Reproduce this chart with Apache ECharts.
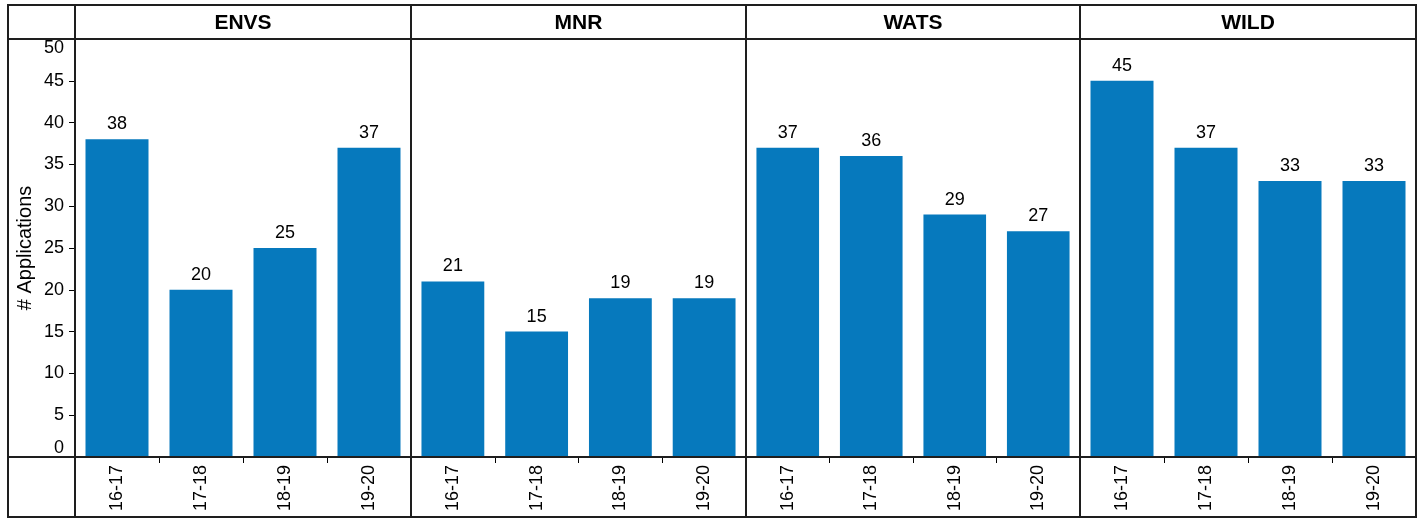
<!DOCTYPE html>
<html>
<head>
<meta charset="utf-8">
<script src="https://cdn.jsdelivr.net/npm/echarts@6/dist/echarts.min.js"></script>
<style>
html,body{margin:0;padding:0;background:#fff;}
#chart{width:1424px;height:519px;}
</style>
</head>
<body>
<div id="chart"></div>
<script>
// ---- data ----
const panels = ['ENVS', 'MNR', 'WATS', 'WILD'];
const years = ['16-17', '17-18', '18-19', '19-20'];
const envs = [38, 20, 25, 37];
const mnr = [21, 15, 19, 19];
const wats = [37, 36, 29, 27];
const wild = [45, 37, 33, 33];
const yTicks = { min: 0, max: 50, interval: 5 };
const yTitle = '# Applications';
const seriesValues = [envs, mnr, wats, wild];

// ---- layout ----
const FONT = '"Liberation Sans", Arial, sans-serif';
const edges = [75, 411, 746, 1080, 1416];
const plotTop = 39, plotBottom = 457;
const frameL = 8, frameT = 5, frameR = 1416, frameB = 517;
const barColor = '#0679BD';
const lineColor = '#1e1e1e';

const grids = [], xAxes = [], yAxes = [], series = [], graphics = [];
panels.forEach((p, i) => {
  grids.push({
    left: edges[i], top: plotTop,
    width: edges[i + 1] - edges[i], height: plotBottom - plotTop,
    containLabel: false
  });
  xAxes.push({
    type: 'category', gridIndex: i, data: years,
    axisLine: { show: false },
    axisTick: { show: true, alignWithLabel: false, length: 6, lineStyle: { color: '#000', width: 1 } },
    axisLabel: { rotate: 90, fontSize: 18, color: '#000', fontFamily: FONT, margin: 8 }
  });
  yAxes.push({
    type: 'value', gridIndex: i, min: yTicks.min, max: yTicks.max, interval: yTicks.interval,
    splitLine: { show: false },
    axisLine: { show: false },
    axisTick: { show: i === 0, length: 6, lineStyle: { color: '#000', width: 1 } },
    axisLabel: {
      show: i === 0, fontSize: 18, color: '#000', fontFamily: FONT, margin: 11,
      verticalAlignMaxLabel: 'top', verticalAlignMinLabel: 'bottom'
    },
    name: i === 0 ? yTitle : '',
    nameLocation: 'middle', nameGap: 40, nameRotate: 90,
    nameTextStyle: { fontSize: 20, color: '#000', fontFamily: FONT }
  });
  series.push({
    type: 'bar', xAxisIndex: i, yAxisIndex: i, data: seriesValues[i],
    barCategoryGap: '25%',
    itemStyle: { color: barColor },
    label: { show: true, position: 'top', distance: 6, fontSize: 18, color: '#000', fontFamily: FONT }
  });
  graphics.push({
    type: 'text', z: 100,
    style: {
      text: p, x: (edges[i] + edges[i + 1]) / 2, y: (frameT + plotTop) / 2 + 1,
      textAlign: 'center', textVerticalAlign: 'middle',
      font: 'bold 21px ' + FONT, fill: '#000'
    }
  });
});

// frame lines
const ls = { stroke: lineColor, lineWidth: 2 };
graphics.push({ type: 'rect', z: 100, shape: { x: frameL, y: frameT, width: frameR - frameL, height: frameB - frameT }, style: { fill: 'none', stroke: lineColor, lineWidth: 2 } });
graphics.push({ type: 'line', z: 100, shape: { x1: frameL, y1: plotTop, x2: frameR, y2: plotTop }, style: ls });
graphics.push({ type: 'line', z: 100, shape: { x1: frameL, y1: plotBottom, x2: frameR, y2: plotBottom }, style: ls });
edges.slice(0, 4).forEach(x => {
  graphics.push({ type: 'line', z: 100, shape: { x1: x, y1: frameT, x2: x, y2: frameB }, style: ls });
});

const chart = echarts.init(document.getElementById('chart'), null, { renderer: 'canvas' });
chart.setOption({
  animation: false,
  backgroundColor: '#fff',
  textStyle: { fontFamily: FONT },
  grid: grids, xAxis: xAxes, yAxis: yAxes, series: series,
  graphic: graphics
});
</script>
</body>
</html>
